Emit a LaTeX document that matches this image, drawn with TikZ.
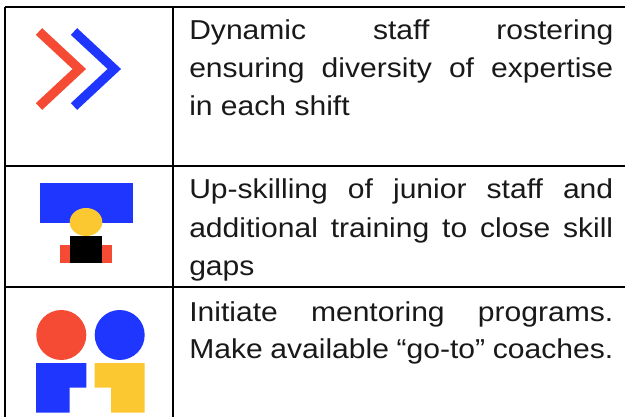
\documentclass[tikz,border=0pt]{standalone}
\usepackage{fontspec}
\setmainfont[FakeStretch=1.1]{Liberation Sans}
\definecolor{cred}{HTML}{F54B35}
\definecolor{cblue}{HTML}{1F36FF}
\definecolor{cyel}{HTML}{FCC832}
\newcommand{\jline}[1]{\makebox[318pt][s]{#1}}
\tikzset{
 rule/.style={line width=1.85pt},
 chev/.style={line width=6.9pt, miter limit=10},
 celltext/.style={anchor=base west, inner sep=0pt, text=black!90, font=\fontsize{20.5}{24}\selectfont},
}
\begin{document}
\begin{tikzpicture}[x=0.75pt,y=-0.75pt]
\useasboundingbox (0,0) rectangle (625,417);
\fill[white] (0,0) rectangle (625,417);
\coordinate (tl) at (5,6.8); \coordinate (tm) at (173,6.8); \coordinate (tr) at (625,6.8);
\coordinate (al) at (5,165.8); \coordinate (am) at (173,165.8); \coordinate (ar) at (625,165.8);
\coordinate (bl) at (5,287); \coordinate (bm) at (173,287); \coordinate (br) at (625,287);
\coordinate (cl) at (5,417); \coordinate (cm) at (173,417);
\draw[rule] (tl) -- (tr);
\draw[rule] (al) -- (ar);
\draw[rule] (bl) -- (br);
\draw[rule] (tl) -- (cl);
\draw[rule] (tm) -- (cm);
% chevrons
\draw[chev,cred] (39,31.5) -- (79.3,69) -- (39,106.5);
\draw[chev,cblue] (74,31.5) -- (114.3,69) -- (74,106.5);
% skill icon
\fill[cblue] (40,183) rectangle (133,223);
\fill[cred] (60,244.7) rectangle (112,263);
\fill[cyel] (86,222) ellipse (16.3 and 14);
\fill[black] (70,236) rectangle (102,263);
% people icon
\fill[cred] (61.3,335) circle (25);
\fill[cblue] (119.7,335) circle (25);
\fill[cblue] (36.2,363) -- (86.3,363) -- (86.3,387.7) -- (69.7,387.7) -- (69.7,412.7) -- (36.2,412.7) -- cycle;
\fill[cyel] (94.7,363) -- (144.7,363) -- (144.7,412.7) -- (111,412.7) -- (111,387.7) -- (94.7,387.7) -- cycle;
% text
\node[celltext] (a1) at (189,39.3) {\jline{Dynamic staff rostering}};
\node[celltext] (a2) at (189,77.5) {\jline{ensuring diversity of expertise}};
\node[celltext] (a3) at (189,115.7) {in each shift};
\node[celltext] (b1) at (189,199) {\jline{Up-skilling of junior staff and}};
\node[celltext] (b2) at (189,237.2) {\jline{additional training to close skill}};
\node[celltext] (b3) at (189,275) {gaps};
\node[celltext] (c1) at (189,321.3) {\jline{Initiate mentoring programs.}};
\node[celltext] (c2) at (189,358) {\jline{Make available “go-to” coaches.}};
\end{tikzpicture}
\end{document}
